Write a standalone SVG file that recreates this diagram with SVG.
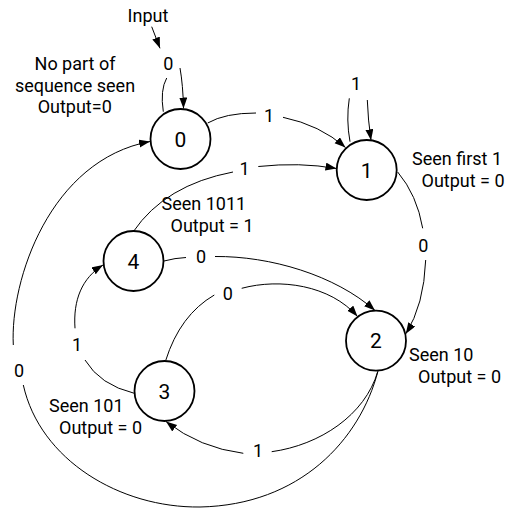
<svg xmlns="http://www.w3.org/2000/svg" width="506" height="510" viewBox="0 0 506 510">
<style>
text{font-family:Roboto,"Liberation Sans",sans-serif;font-size:18px;fill:#000}
.c{text-anchor:middle}
.n{font-size:21px;text-anchor:middle}
circle{fill:#fff;stroke:#000;stroke-width:1.8}
#edges path{fill:none;stroke:#000;stroke-width:1}
#edges path.a{marker-end:url(#arr)}
</style>
<defs>
<marker id="arr" markerUnits="userSpaceOnUse" markerWidth="12" markerHeight="9" refX="11" refY="4" orient="auto">
<path d="M0,0 L11,4 L0,8 Z" fill="#000"/>
</marker>
</defs>
<rect width="506" height="510" fill="#fff"/>
<g id="edges">
<path class="a" d="M151.7,26.7 L160,48.3"/>
<path d="M163.3,111.7 Q160,90 166.7,78"/>
<path class="a" d="M180,68 Q183,85 183.5,108.5"/>
<path d="M207.7,123 Q225,113 256,113"/>
<path class="a" d="M283,117.3 Q320,125 345.5,147.5"/>
<path d="M133.3,231.7 Q165,185 233,172"/>
<path class="a" d="M258.3,166.5 Q300,162 336.5,168.5"/>
<path d="M350,141.7 Q346,120 349.3,98.3"/>
<path class="a" d="M367.3,100 Q368,120 371,140.3"/>
<path d="M397.7,172 Q417,195 422.7,228.3"/>
<path class="a" d="M425.7,260 Q424,305 405.8,333.8"/>
<path d="M164,261 Q175,258 186,257.5"/>
<path class="a" d="M215,256.5 C270,256 335,275 375,310.5"/>
<path d="M165.7,360.5 Q180,315 214.3,295"/>
<path class="a" d="M241.7,288.3 C280,278 330,285 357.5,316.5"/>
<path d="M377.7,371.7 C365,415 320,445 271.7,451.7"/>
<path class="a" d="M243.3,453.3 Q200,448 166,421.5"/>
<path d="M378,371 C360,440 300,505 200,507 C120,508 40,460 23.3,385"/>
<path class="a" d="M13.3,345 C10,280 50,160 150,141.5"/>
<path d="M134.3,393.3 Q100,385 85,360"/>
<path class="a" d="M75,328.3 C73,300 82,278 103,265"/>
</g>
<g id="edge-labels">
<text class="c" x="168.3" y="70">0</text>
<text class="c" x="269" y="121.7">1</text>
<text class="c" x="356" y="90">1</text>
<text class="c" x="244.5" y="175">1</text>
<text class="c" x="423.3" y="251.7">0</text>
<text class="c" x="201" y="263.3">0</text>
<text class="c" x="227.7" y="300">0</text>
<text class="c" x="77" y="350.7">1</text>
<text class="c" x="19" y="376.5">0</text>
<text class="c" x="258" y="457">1</text>
</g>
<g id="input"><text class="c" x="148" y="21.5">Input</text></g>
<g id="s0">
<circle cx="180.5" cy="139" r="30"/>
<text class="n" x="180.5" y="146.5">0</text>
<text class="c" x="75" y="70">No part of</text>
<text class="c" x="75" y="91.7">sequence seen</text>
<text class="c" x="74.7" y="113.3">Output=0</text>
</g>
<g id="s1">
<circle cx="366.7" cy="170" r="30"/>
<text class="n" x="366.7" y="177.5">1</text>
<text x="412" y="165">Seen first 1</text>
<text x="421.5" y="186.7">Output = 0</text>
</g>
<g id="s4">
<circle cx="133.5" cy="261" r="30"/>
<text class="n" x="133.5" y="268.5">4</text>
<text x="161.5" y="210">Seen 1011</text>
<text x="170.5" y="231.7">Output = 1</text>
</g>
<g id="s2">
<circle cx="376" cy="340.7" r="30"/>
<text class="n" x="376" y="348.2">2</text>
<text x="409" y="360.7">Seen 10</text>
<text x="418" y="383.3">Output = 0</text>
</g>
<g id="s3">
<circle cx="164.5" cy="391" r="30"/>
<text class="n" x="164.5" y="398.5">3</text>
<text x="49" y="411.7">Seen 101</text>
<text x="59" y="434.3">Output = 0</text>
</g>
</svg>
